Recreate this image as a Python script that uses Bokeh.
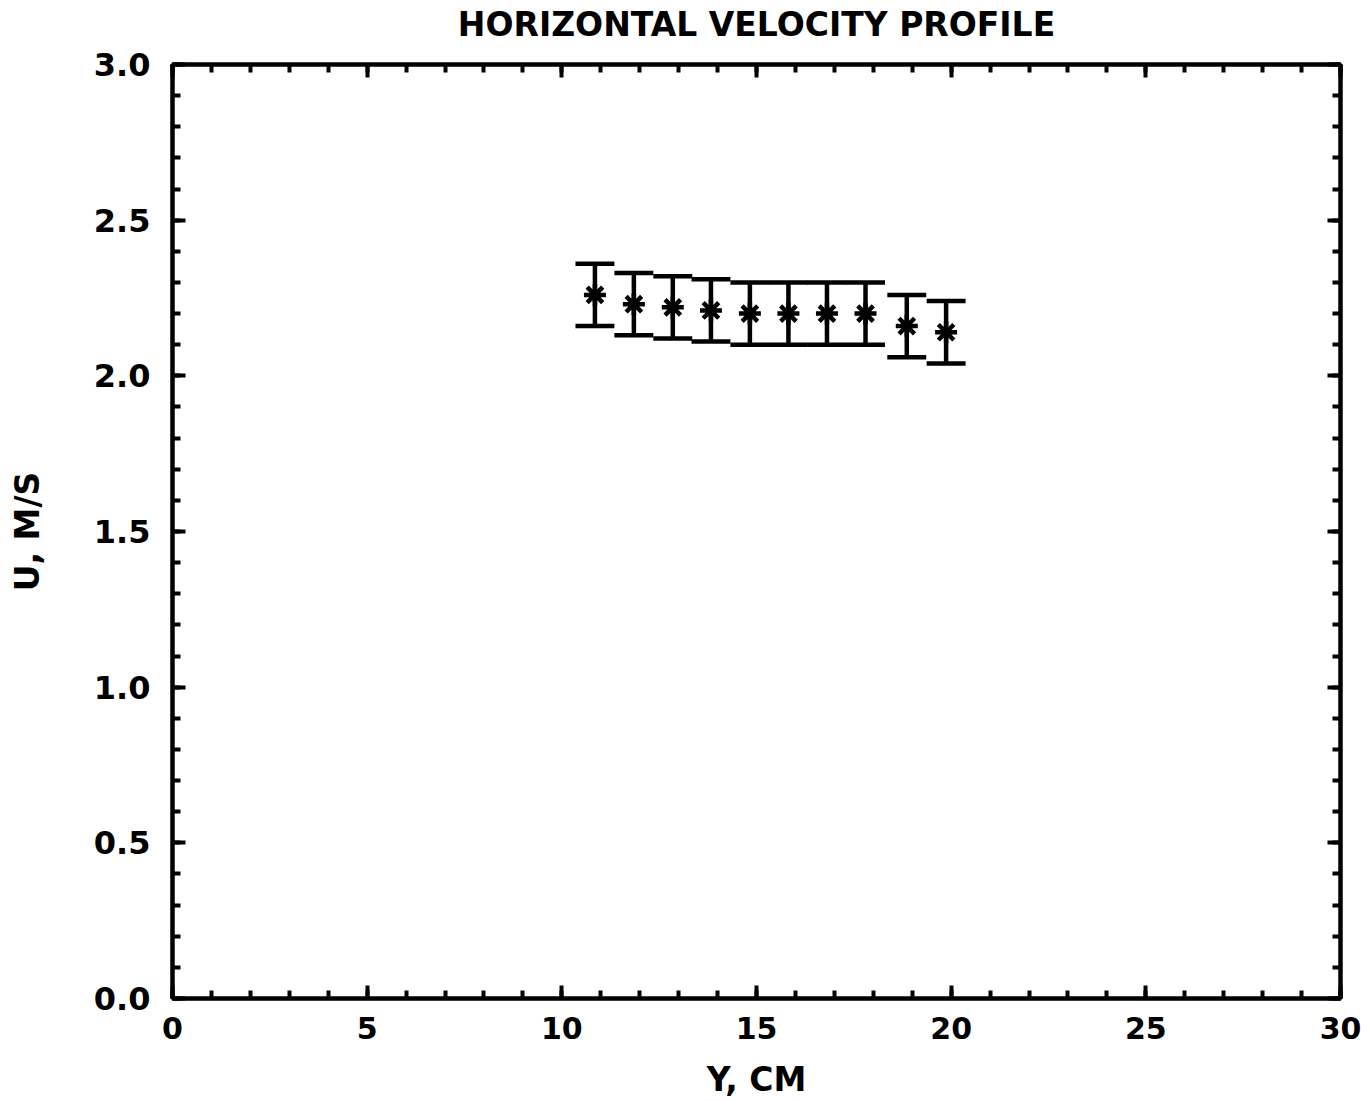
from bokeh.plotting import figure
from bokeh.models import LinearAxis, Range1d, FixedTicker, ColumnDataSource
from bokeh.embed import file_html
from bokeh.resources import INLINE

# Data
title_text = "HORIZONTAL VELOCITY PROFILE"
x_label = "Y, CM"
y_label = "U, M/S"
y_cm = [10.85, 11.85, 12.85, 13.83, 14.83, 15.82, 16.81, 17.80, 18.86, 19.87]
u_ms = [2.26, 2.23, 2.22, 2.21, 2.20, 2.20, 2.20, 2.20, 2.16, 2.14]
u_err = [0.10, 0.10, 0.10, 0.10, 0.10, 0.10, 0.10, 0.10, 0.10, 0.10]
cap_half = 0.5

x_major = [0, 5, 10, 15, 20, 25, 30]
x_minor = list(range(0, 31))
y_major = [0.0, 0.5, 1.0, 1.5, 2.0, 2.5, 3.0]
y_minor = [round(i * 0.1, 1) for i in range(31)]

FONT = "DejaVu Sans"

lo = [u - e for u, e in zip(u_ms, u_err)]
hi = [u + e for u, e in zip(u_ms, u_err)]
src = ColumnDataSource(dict(
    x=y_cm, y=u_ms, lo=lo, hi=hi,
    xl=[x - cap_half for x in y_cm], xr=[x + cap_half for x in y_cm],
))

p = figure(width=1369, height=1101, output_backend="svg", toolbar_location=None,
           x_range=Range1d(0, 30), y_range=Range1d(0, 3.0),
           x_axis_location=None, y_axis_location=None,
           min_border_left=172, min_border_right=29, min_border_top=64, min_border_bottom=103)

p.xgrid.visible = False
p.ygrid.visible = False
p.outline_line_color = "black"
p.outline_line_width = 4
p.background_fill_color = "white"
p.border_fill_color = "white"


def style_axis(ax, major, minor, label_size, axis_label_size="33px"):
    ax.ticker = FixedTicker(ticks=major, minor_ticks=minor)
    ax.axis_line_width = 4
    ax.axis_line_color = "black"
    ax.major_tick_in = 13
    ax.major_tick_out = 0
    ax.minor_tick_in = 8
    ax.minor_tick_out = 0
    ax.major_tick_line_width = 4
    ax.minor_tick_line_width = 4
    ax.major_tick_line_color = "black"
    ax.minor_tick_line_color = "black"
    ax.major_label_text_font = FONT
    ax.major_label_text_font_style = "bold"
    ax.major_label_text_color = "black"
    if label_size:
        ax.major_label_text_font_size = label_size
        ax.major_label_standoff = 18
    else:
        ax.major_label_text_font_size = "0px"
        ax.major_label_text_alpha = 0
        ax.major_label_standoff = 0
    ax.axis_label_text_font = FONT
    ax.axis_label_text_font_size = axis_label_size
    ax.axis_label_text_font_style = "bold"
    ax.axis_label_text_color = "black"


xb = LinearAxis(axis_label=x_label)
style_axis(xb, x_major, x_minor, "30px")
xb.axis_label_standoff = 18
p.add_layout(xb, "below")

yl = LinearAxis(axis_label=y_label)
style_axis(yl, y_major, y_minor, "32px")
yl.major_label_standoff = 22
yl.axis_label_standoff = 44
yl.major_label_overrides = {v: f"{v:.1f}" for v in y_major}
p.add_layout(yl, "left")

# top axis: inner ticks only, chart title as its label
xt = LinearAxis(axis_label=title_text)
style_axis(xt, x_major, x_minor, None)
xt.axis_label_standoff = 21
p.add_layout(xt, "above")

yr = LinearAxis()
style_axis(yr, y_major, y_minor, None)
p.add_layout(yr, "right")

# error bars
p.segment(x0="x", y0="lo", x1="x", y1="hi", source=src, line_color="black", line_width=4.5)
p.segment(x0="xl", y0="hi", x1="xr", y1="hi", source=src, line_color="black", line_width=4.5)
p.segment(x0="xl", y0="lo", x1="xr", y1="lo", source=src, line_color="black", line_width=4.5)
p.scatter(x="x", y="y", source=src, marker="asterisk", size=22,
          line_color="black", line_width=4.5)

open("out.html", "w").write(file_html(p, INLINE))
